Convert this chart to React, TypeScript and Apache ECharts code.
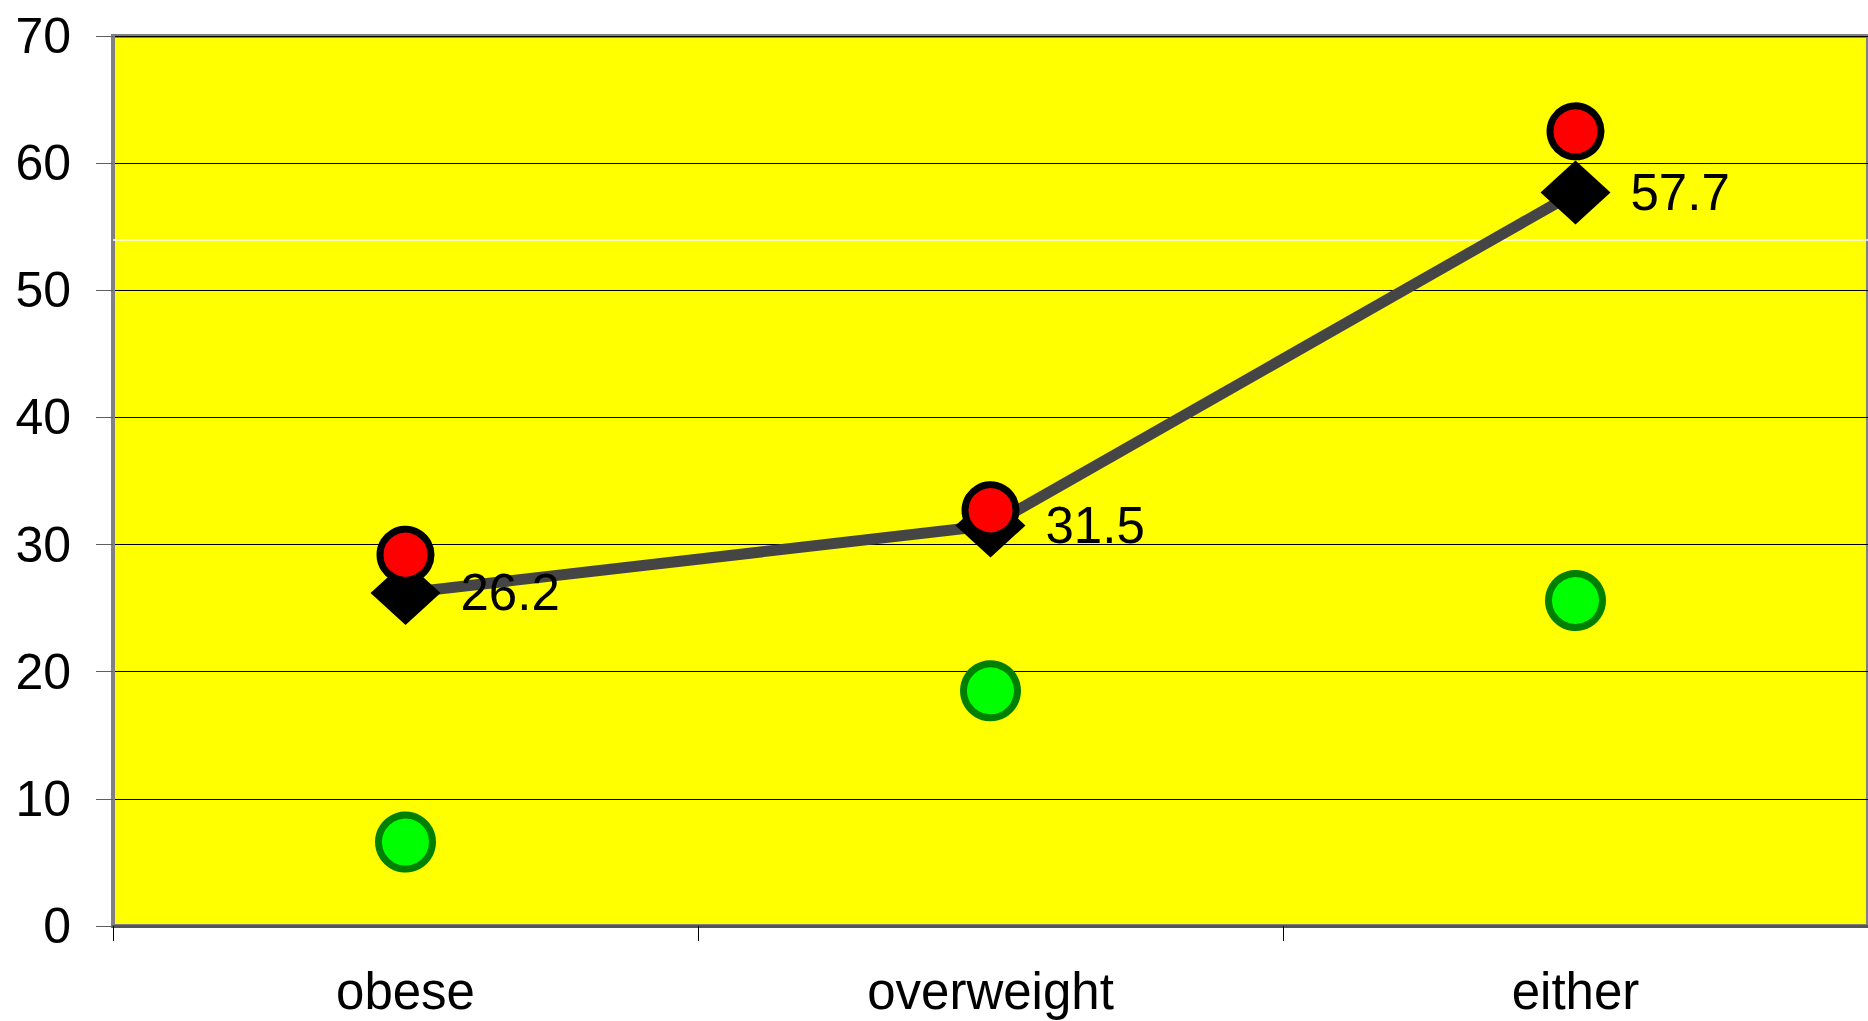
import React, { useEffect, useRef } from "react";
import * as echarts from "echarts";

const categories = ["obese", "overweight", "either"];
const diamondValues = [26.2, 31.5, 57.7];
const redValues = [29.2, 32.7, 62.5];
const greenValues = [6.6, 18.5, 25.6];
const whiteLineValue = 54;
const yTicks = { min: 0, max: 70, interval: 10 };

const FONT = "'Liberation Sans', Arial, sans-serif";

export default function App() {
  const ref = useRef<HTMLDivElement>(null);
  useEffect(() => {
    if (!ref.current) return;
    const chart = echarts.init(ref.current, null, { renderer: "svg" });
    chart.setOption({
      animation: false,
      backgroundColor: "#ffffff",
      grid: {
        left: 113,
        top: 36,
        right: -6,
        bottom: 95,
        show: true,
        backgroundColor: "#ffff00",
        borderColor: "#808080",
        borderWidth: 4,
      },
      xAxis: {
        type: "category",
        data: categories,
        boundaryGap: true,
        axisLine: { show: true, lineStyle: { color: "#555555", width: 3 } },
        axisTick: { show: true, length: 15, lineStyle: { color: "#000000", width: 1 } },
        axisLabel: { fontSize: 51, fontFamily: FONT, color: "#000000", margin: 40 },
        splitLine: { show: false },
      },
      yAxis: {
        type: "value",
        min: yTicks.min,
        max: yTicks.max,
        interval: yTicks.interval,
        axisLine: { show: true, lineStyle: { color: "#808080", width: 3 } },
        axisTick: { show: true, length: 17, lineStyle: { color: "#606060", width: 1 } },
        axisLabel: { fontSize: 50, fontFamily: FONT, color: "#000000", margin: 42 },
        splitLine: { show: true, lineStyle: { color: "#000000", width: 1 } },
      },
      series: [
        {
          type: "line",
          data: diamondValues,
          symbol: "diamond",
          symbolSize: [70, 64],
          z: 3,
          itemStyle: { color: "#000000", opacity: 1 },
          lineStyle: { color: "#454545", width: 11, opacity: 1 },
          label: {
            show: true,
            position: "right",
            distance: 20,
            fontSize: 51,
            fontFamily: FONT,
            color: "#000000",
          },
          markLine: {
            silent: true,
            symbol: "none",
            label: { show: false },
            lineStyle: { color: "#ffffff", width: 1.5, type: "solid", opacity: 1 },
            data: [{ yAxis: whiteLineValue }],
            z: 1,
          },
        },
        {
          type: "scatter",
          data: redValues,
          symbol: "circle",
          symbolSize: 51,
          z: 4,
          itemStyle: { color: "#ff0000", borderColor: "#000000", borderWidth: 7, opacity: 1 },
        },
        {
          type: "scatter",
          data: greenValues,
          symbol: "circle",
          symbolSize: 54,
          z: 4,
          itemStyle: { color: "#00ff00", borderColor: "#008000", borderWidth: 7, opacity: 1 },
        },
      ],
    });
    return () => chart.dispose();
  }, []);
  return (
    <div
      ref={ref}
      style={{ position: "absolute", left: 0, top: 0, width: 1868, height: 1021 }}
    />
  );
}
